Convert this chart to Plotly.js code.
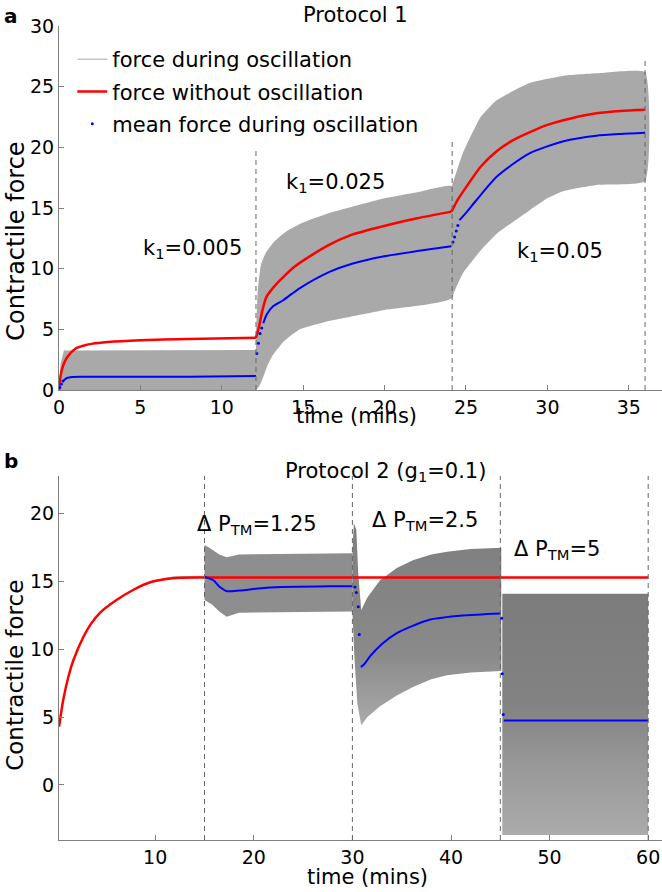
<!DOCTYPE html>
<html>
<head>
<meta charset="utf-8">
<script src="https://cdn.plot.ly/plotly-3.0.1.min.js"></script>
<style>html,body{margin:0;padding:0;background:#fff}#chart{width:662px;height:892px}</style>
</head>
<body>
<div id="chart"></div>
<script>
// ---------- Protocol 1 (panel a) ----------
// force without oscillation, one segment per stage (null = stage boundary)
const p1RedX = [0, 0.1, 0.25, 0.5, 1, 1.5, 2, 3, 5, 8, 12.1, null, 12.1, 12.3, 12.5, 12.75, 13.2, 13.77, 14.5, 15.5, 16.65, 18, 19.9, 22, 24.1, null, 24.1, 24.3, 24.5, 25, 25.9, 26.9, 27.9, 29, 30, 31.5, 33, 34.5, 36];
const p1RedY = [0, 1.2, 2.0, 2.7, 3.4, 3.65, 3.8, 3.95, 4.1, 4.2, 4.3, null, 4.3, 5.3, 6.6, 7.7, 8.5, 9.3, 10.2, 11.1, 12.0, 12.8, 13.5, 14.15, 14.7, null, 14.7, 15.2, 15.7, 16.7, 18.4, 19.7, 20.6, 21.3, 21.85, 22.4, 22.8, 23.0, 23.1];

const p1BlueX = [0.3, 0.5, 0.8, 1.5, 4, 8, 12.1, null, 12.55, 12.75, 13.15, 13.77, 14.8, 16.65, 18, 19.9, 22, 24.1, null, 24.6, 25, 25.65, 26.9, 28.9, 31, 33, 34.5, 36];
const p1BlueY = [0.8, 1.0, 1.08, 1.1, 1.1, 1.1, 1.15, null, 5.5, 6.2, 6.9, 7.4, 8.4, 9.75, 10.4, 11.0, 11.45, 11.85, null, 14.0, 14.6, 15.66, 17.6, 19.5, 20.5, 20.95, 21.1, 21.2];
const p1DotX = [0.05, 0.15, 0.25, 12.15, 12.25, 12.35, 12.45, 24.2, 24.3, 24.4, 24.5];
const p1DotY = [0.2, 0.5, 0.75, 3.0, 3.85, 4.65, 5.1, 12.2, 12.6, 13.1, 13.55];

// oscillation envelopes (upper / lower) per stage
const p1S1UpX = [0, 0.1, 0.3, 12.1];
const p1S1UpY = [0, 2.2, 3.25, 3.3];
const p1S1LoX = [0, 12.1];
const p1S1LoY = [0, 0];
const p1S2UpX = [12.1, 12.2, 12.4, 12.7, 13.2, 14, 15, 16.65, 18, 20, 22, 24.15];
const p1S2UpY = [4.5, 8, 10.3, 11.3, 12.2, 13.1, 13.8, 14.6, 15.1, 15.8, 16.3, 16.8];
const p1S2LoX = [12.1, 12.3, 12.5, 12.8, 13.1, 13.8, 14.8, 16.65, 20, 24.15];
const p1S2LoY = [0, 0.3, 0.9, 2.0, 2.8, 4.0, 5.0, 5.7, 6.6, 7.6];
const p1S3UpX = [24.15, 24.8, 25.9, 26.9, 28.9, 31, 33, 36];
const p1S3UpY = [16.9, 19.5, 22.5, 23.9, 25.3, 25.9, 26.1, 26.2];
const p1S3LoX = [24.15, 24.8, 25.9, 26.9, 28.9, 30, 31, 33, 36];
const p1S3LoY = [7.7, 9.6, 11.5, 12.9, 14.8, 15.8, 16.4, 16.9, 17.2];

const p1SwitchX = [12.1, 24.15, 36];
const p1SwitchTop = [20.0, 20.6, 27.3];

const p1Labels = ['k<sub>1</sub>=0.005', 'k<sub>1</sub>=0.025', 'k<sub>1</sub>=0.05'];
const p1LabelX = [8.17, 17.0, 30.8];
const p1LabelY = [11.6, 17.1, 11.4];

// ---------- Protocol 2 (panel b) ----------
const p2RedX = [0.25, 0.68, 1.2, 1.7, 2.7, 3.5, 4.4, 6, 7.8, 9.5, 11.8, 15, 30, 45, 60];
const p2RedY = [4.3, 6.3, 8.0, 9.2, 10.9, 11.9, 12.7, 13.6, 14.4, 14.95, 15.25, 15.3, 15.3, 15.3, 15.3];
const p2GreyX = [9.5, 11.8, 15];
const p2GreyY = [15.0, 15.35, 15.4];

const p2BlueX = [15, 15.9, 16.56, 17.24, 18.6, 21.3, 27.7, 30, null, 30.85, 31.2, 31.8, 33, 34.5, 36, 37.9, 41.2, 45, null, 45.35, 60];
const p2BlueY = [15.35, 15.1, 14.6, 14.3, 14.35, 14.55, 14.65, 14.65, null, 8.7, 8.9, 9.5, 10.4, 11.2, 11.7, 12.2, 12.5, 12.65, null, 4.75, 4.75];
const p2DotX = [30.26, 30.4, 30.6, 30.7, 45.14, 45.2, 45.3];
const p2DotY = [14.6, 14.2, 13.15, 11.1, 12.3, 8.2, 5.2];

const p2SAUpX = [15, 15.5, 16.5, 17.25, 18.5, 30];
const p2SAUpY = [17.7, 17.5, 17.0, 16.8, 17.0, 17.1];
const p2SALoX = [15, 15.8, 16.5, 17.25, 18.5, 30];
const p2SALoY = [13.65, 13.3, 12.8, 12.4, 12.7, 12.8];
const p2SBUpX = [30, 30.15, 30.4, 30.6, 30.9, 31.5, 32.8, 34.5, 36.2, 38, 39.6, 42, 45.1];
const p2SBUpY = [17.1, 19.3, 18.8, 15.5, 12.9, 13.8, 15.1, 16.0, 16.6, 17.0, 17.2, 17.4, 17.5];
const p2SBLoX = [30, 30.2, 30.5, 30.9, 31.5, 32.8, 34.5, 36.2, 38, 39.6, 42, 45.1];
const p2SBLoY = [12.8, 9.5, 6.0, 4.4, 5.0, 5.8, 6.6, 7.25, 7.8, 8.1, 8.3, 8.4];
const p2SCUpX = [45.2, 60];
const p2SCUpY = [14.1, 14.1];
const p2SCLoX = [45.2, 60];
const p2SCLoY = [-3.7, -3.7];

const p2SwitchX = [15, 30, 45, 60];

const p2Labels = ['Δ P<sub>TM</sub>=1.25', 'Δ P<sub>TM</sub>=2.5', 'Δ P<sub>TM</sub>=5'];
const p2LabelX = [20.3, 37.4, 50.7];
const p2LabelY = [19.2, 19.5, 17.3];

const p1TicksX = [0, 5, 10, 15, 20, 25, 30, 35];
const p1TicksY = [0, 5, 10, 15, 20, 25, 30];
const p2TicksX = [10, 20, 30, 40, 50, 60];
const p2TicksY = [0, 5, 10, 15, 20];

// ---------- build ----------
function band(xu, yu, xl, yl) {
  return {x: xu.concat(xl.slice().reverse()), y: yu.concat(yl.slice().reverse())};
}
const FONT = 'DejaVu Sans, Arial, sans-serif';
const traces = [];
function addBand(b, xa, ya, fill, shape) {
  const t = {x: b.x, y: b.y, xaxis: xa, yaxis: ya, mode: 'lines', fill: 'toself',
    line: {width: 0, color: 'rgba(0,0,0,0)', shape: shape || 'linear', smoothing: 0.4},
    showlegend: false, hoverinfo: 'skip'};
  Object.assign(t, fill);
  traces.push(t);
}
const topFill = {fillcolor: '#a9a9a9'};
addBand(band(p1S1UpX, p1S1UpY, p1S1LoX, p1S1LoY), 'x', 'y', topFill);
addBand(band(p1S2UpX, p1S2UpY, p1S2LoX, p1S2LoY), 'x', 'y', topFill, 'spline');
addBand(band(p1S3UpX, p1S3UpY, p1S3LoX, p1S3LoY), 'x', 'y', topFill, 'spline');
addBand(band(p2SAUpX, p2SAUpY, p2SALoX, p2SALoY), 'x2', 'y2', {fillcolor: '#8e8e8e'});
addBand(band(p2SBUpX, p2SBUpY, p2SBLoX, p2SBLoY), 'x2', 'y2',
  {fillgradient: {type: 'vertical', colorscale: [[0, '#aaaaaa'], [0.35, '#8a8a8a'], [1, '#7e7e7e']]}});
addBand(band(p2SCUpX, p2SCUpY, p2SCLoX, p2SCLoY), 'x2', 'y2',
  {fillgradient: {type: 'vertical', colorscale: [[0, '#ababab'], [0.3, '#979797'], [0.55, '#828282'], [1, '#7c7c7c']]}});

const smooth = {shape: 'spline', smoothing: 0.7};
traces.push({x: p2GreyX, y: p2GreyY, xaxis: 'x2', yaxis: 'y2', mode: 'lines',
  line: {color: '#a8a8a8', width: 1}, name: 'force during oscillation',
  legendgroup: 'g1', legendrank: 1, showlegend: true});
traces.push({x: p1RedX, y: p1RedY, xaxis: 'x', yaxis: 'y', mode: 'lines',
  line: Object.assign({color: '#ff0000', width: 2.5}, smooth), name: 'force without oscillation',
  legendgroup: 'g2', legendrank: 2, showlegend: true, connectgaps: false});
traces.push({x: p2RedX, y: p2RedY, xaxis: 'x2', yaxis: 'y2', mode: 'lines',
  line: Object.assign({color: '#ff0000', width: 2.5}, smooth), name: 'force without oscillation',
  legendgroup: 'g2', showlegend: false});
traces.push({x: p1BlueX, y: p1BlueY, xaxis: 'x', yaxis: 'y', mode: 'lines',
  line: Object.assign({color: '#0000ff', width: 2}, smooth), name: 'mean force during oscillation',
  legendgroup: 'g3', showlegend: false, connectgaps: false});
traces.push({x: p2BlueX, y: p2BlueY, xaxis: 'x2', yaxis: 'y2', mode: 'lines',
  line: Object.assign({color: '#0000ff', width: 2}, smooth), name: 'mean force during oscillation',
  legendgroup: 'g3', showlegend: false, connectgaps: false});
traces.push({x: p1DotX, y: p1DotY, xaxis: 'x', yaxis: 'y', mode: 'markers',
  marker: {color: '#0000ff', size: 3}, name: 'mean force during oscillation',
  legendgroup: 'g3', legendrank: 3, showlegend: true});
traces.push({x: p2DotX, y: p2DotY, xaxis: 'x2', yaxis: 'y2', mode: 'markers',
  marker: {color: '#0000ff', size: 3}, name: 'mean force during oscillation',
  legendgroup: 'g3', showlegend: false});

const shapes = [];
p1SwitchX.forEach((sx, i) => shapes.push({type: 'line', xref: 'x', yref: 'y', x0: sx, x1: sx, y0: 0, y1: p1SwitchTop[i],
  line: {color: '#666666', width: 1, dash: '5px,4px'}, layer: 'above'}));
p2SwitchX.forEach(sx => shapes.push({type: 'line', xref: 'x2', yref: 'y2 domain', x0: sx, x1: sx, y0: 0, y1: 1,
  line: {color: '#666666', width: 1, dash: '5px,4px'}, layer: 'above'}));

const annFont = {family: FONT, size: 21, color: '#000'};
const annotations = [];
p1Labels.forEach((t, i) => annotations.push({text: t, x: p1LabelX[i], y: p1LabelY[i], xref: 'x', yref: 'y',
  showarrow: false, font: annFont, xanchor: 'center', yanchor: 'middle'}));
p2Labels.forEach((t, i) => annotations.push({text: t, x: p2LabelX[i], y: p2LabelY[i], xref: 'x2', yref: 'y2',
  showarrow: false, font: annFont, xanchor: 'center', yanchor: 'middle'}));
function paperText(text, x, y, font, angle, xanchor) {
  annotations.push({text: text, x: x, y: y, xref: 'paper', yref: 'paper', showarrow: false,
    font: font, xanchor: xanchor || 'center', yanchor: 'middle', textangle: angle || 0, borderpad: 0});
}
paperText('Protocol 1', 0.491, 1.0135, annFont);
paperText('Protocol 2 (g<sub>1</sub>=0.1)', 0.542, 0.452, annFont);
paperText('time (mins)', 0.494, 0.5205, annFont);
paperText('time (mins)', 0.5124, -0.045, annFont);
paperText('Contractile force', -0.0965, 0.7359, {family: FONT, size: 24, color: '#000'}, -90, 'left');
paperText('Contractile force', -0.0965, 0.2027, {family: FONT, size: 23, color: '#000'}, -90, 'left');
paperText('<b>a</b>', -0.0796, 1.0123, {family: FONT, size: 20, color: '#000'});
paperText('<b>b</b>', -0.0788, 0.4656, {family: FONT, size: 20, color: '#000'});

const axisCommon = {showline: true, linecolor: '#808080', linewidth: 1, ticks: 'inside', ticklen: 5,
  tickcolor: '#808080', showgrid: false, zeroline: false, mirror: false,
  tickfont: {family: FONT, size: 19, color: '#000'}};

const layout = {
  width: 662, height: 892,
  margin: {l: 59, r: 0, t: 26, b: 52, pad: 0},
  paper_bgcolor: '#fff', plot_bgcolor: 'rgba(0,0,0,0)',
  font: {family: FONT, color: '#000'},
  showlegend: true,
  legend: {x: 0.022, y: 0.984, xanchor: 'left', yanchor: 'top', bgcolor: 'rgba(0,0,0,0)',
    font: {family: FONT, size: 21, color: '#000'}, tracegroupgap: 2, traceorder: 'grouped', itemwidth: 30},
  xaxis: Object.assign({}, axisCommon, {domain: [0, 1], anchor: 'y', range: [0, 37.04], tickvals: p1TicksX}),
  yaxis: Object.assign({}, axisCommon, {domain: [0.55283, 1], anchor: 'x', range: [0, 30], tickvals: p1TicksY}),
  xaxis2: Object.assign({}, axisCommon, {domain: [0, 1], anchor: 'y2', range: [0.243, 61.4], tickvals: p2TicksX}),
  yaxis2: Object.assign({}, axisCommon, {domain: [0, 0.44717], anchor: 'x2', range: [-4.06, 22.79], tickvals: p2TicksY}),
  shapes: shapes,
  annotations: annotations
};
Plotly.newPlot('chart', traces, layout, {displayModeBar: false, staticPlot: true});
</script>
</body>
</html>
